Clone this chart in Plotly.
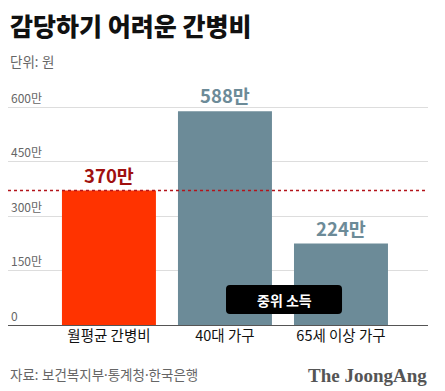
import plotly.graph_objects as go

categories = ["월평균 간병비", "40대 가구", "65세 이상 가구"]
values = [370, 588, 224]
value_labels = ["370만", "588만", "224만"]
bar_colors = ["#FF3300", "#6C8B98", "#6C8B98"]
label_colors = ["#A0100F", "#6C8B98", "#6C8B98"]
tick_vals = [0, 150, 300, 450, 600]
tick_text = ["0", "150만", "300만", "450만", "600만"]
average_value = values[0]
median_box_text = "중위 소득"

FONT = "Noto Sans CJK KR"
MIXED = "Noto Sans, Noto Sans CJK KR"
PLOT_H = 237  # px

fig = go.Figure()
fig.add_trace(go.Bar(
    x=categories, y=values,
    marker=dict(color=bar_colors, line=dict(width=0)),
    width=0.81,
    text=value_labels, textposition="outside",
    textfont=dict(family=FONT, size=18.5, color=label_colors, weight="bold"),
    cliponaxis=False, hoverinfo="skip",
))

# dotted average line
fig.add_shape(type="line", xref="paper", x0=0, x1=1, yref="y",
              y0=average_value, y1=average_value,
              line=dict(color="#B3141B", width=1.6, dash="dot"), layer="above")

# rounded black box "중위 소득"
cx, cy, w, h = 1.509, 70, 1.0, 80
rx, ry = 4 / 116, 4 * 600 / 218
x0, x1, y0, y1 = cx - w / 2, cx + w / 2, cy - h / 2, cy + h / 2
path = (f"M {x0+rx},{y0} L {x1-rx},{y0} Q {x1},{y0} {x1},{y0+ry} "
        f"L {x1},{y1-ry} Q {x1},{y1} {x1-rx},{y1} L {x0+rx},{y1} "
        f"Q {x0},{y1} {x0},{y1-ry} L {x0},{y0+ry} Q {x0},{y0} {x0+rx},{y0} Z")
fig.add_shape(type="path", path=path, xref="x", yref="y",
              fillcolor="#000000", line=dict(width=0), layer="above")
fig.add_annotation(x=cx, y=cy, xref="x", yref="y", text=median_box_text,
                   showarrow=False,
                   font=dict(family=FONT, size=14, color="white", weight="bold"))

def py(screen_y):
    return (325 - screen_y) / PLOT_H

# titles & footer
fig.add_annotation(x=0, y=py(24.5), xref="paper", yref="paper", xanchor="left",
                   yanchor="middle", text="감당하기 어려운 간병비", showarrow=False,
                   font=dict(family=FONT, size=25, color="#111111", weight=900))
fig.add_annotation(x=0, y=py(62), xref="paper", yref="paper", xanchor="left",
                   yanchor="middle", text="단위: 원", showarrow=False,
                   font=dict(family=MIXED, size=13.5, color="#666666"))
fig.add_annotation(x=0, y=py(375), xref="paper", yref="paper", xanchor="left",
                   yanchor="middle", text="자료: 보건복지부·통계청·한국은행", showarrow=False,
                   font=dict(family=MIXED, size=13.5, color="#666666"))
fig.add_annotation(x=1.0024, y=py(375), xref="paper", yref="paper", xanchor="right",
                   yanchor="middle", text="<b>The JoongAng</b>", showarrow=False,
                   font=dict(family="Liberation Serif", size=19, color="#555555"))

fig.update_layout(
    width=437, height=383,
    margin=dict(l=0, r=17, t=80, b=66),
    paper_bgcolor="white", plot_bgcolor="white",
    showlegend=False,
    font=dict(family=FONT),
    xaxis=dict(range=[-0.87, 2.75], showgrid=False, zeroline=False,
               showline=False, ticks="",
               tickfont=dict(family=FONT, size=14.5, color="#111111")),
    yaxis=dict(range=[0, PLOT_H * 600 / 218], tickvals=tick_vals, ticktext=tick_text,
               ticklabelposition="inside top", showgrid=True,
               gridcolor="#DDDDDD", gridwidth=1,
               zeroline=True, zerolinecolor="#555555", zerolinewidth=1.2,
               showline=False, ticks="",
               tickfont=dict(family=FONT, size=12, color="#666666")),
)
fig.write_html("out.html")
